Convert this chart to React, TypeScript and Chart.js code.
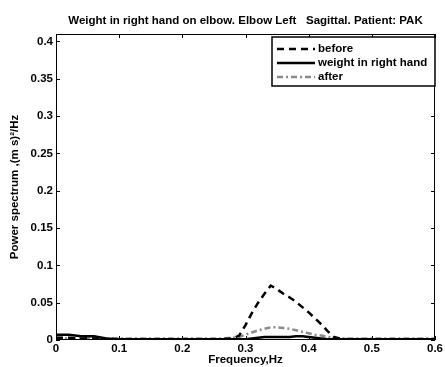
import React, { useEffect, useRef } from "react";
import { Chart, registerables } from "chart.js";
Chart.register(...registerables);

const titleText = "Weight in right hand on elbow. Elbow Left   Sagittal. Patient: PAK";
const xTitle = "Frequency,Hz";
const yTitle = "Power spectrum ,(m s)\u00B2/Hz";
const seriesNames = ["before", "weight in right hand", "after"];
const xTicks = [0, 0.1, 0.2, 0.3, 0.4, 0.5, 0.6];
const yTicks = [0, 0.05, 0.1, 0.15, 0.2, 0.25, 0.3, 0.35, 0.4];

const freq = [0, 0.02, 0.04, 0.06, 0.08, 0.1, 0.12, 0.14, 0.16, 0.18, 0.2, 0.22, 0.24, 0.26, 0.28, 0.29, 0.3, 0.31, 0.32, 0.33, 0.34, 0.35, 0.36, 0.37, 0.38, 0.39, 0.4, 0.41, 0.42, 0.43, 0.44, 0.45, 0.46, 0.48, 0.5, 0.52, 0.54, 0.56, 0.58, 0.6];
const before = [0.003, 0.003, 0.002, 0.002, 0.001, 0.001, 0.001, 0.001, 0.001, 0.001, 0.001, 0.001, 0.001, 0.001, 0.002, 0.006, 0.02, 0.036, 0.05, 0.062, 0.073, 0.068, 0.062, 0.057, 0.051, 0.044, 0.037, 0.029, 0.021, 0.012, 0.004, 0.002, 0.001, 0.001, 0.001, 0.001, 0.001, 0.001, 0.001, 0.001];
const weight = [0.007, 0.007, 0.005, 0.005, 0.002, 0.001, 0.001, 0.001, 0.001, 0.001, 0.001, 0.001, 0.001, 0.001, 0.001, 0.001, 0.001, 0.002, 0.003, 0.004, 0.004, 0.004, 0.004, 0.004, 0.005, 0.005, 0.004, 0.003, 0.002, 0.001, 0.001, 0.001, 0.001, 0.001, 0.001, 0.001, 0.001, 0.001, 0.001, 0.001];
const after = [0.003, 0.002, 0.002, 0.002, 0.002, 0.002, 0.002, 0.002, 0.002, 0.002, 0.002, 0.002, 0.002, 0.002, 0.003, 0.004, 0.007, 0.01, 0.013, 0.015, 0.017, 0.017, 0.016, 0.015, 0.013, 0.011, 0.009, 0.007, 0.006, 0.004, 0.003, 0.002, 0.002, 0.002, 0.002, 0.002, 0.002, 0.002, 0.002, 0.002];

const FONT = "'Liberation Sans', Arial, sans-serif";
const FS = 11.5;
const GRAY = "#8a8a8a";

const framePlugin = {
  id: "frame",
  afterDraw(chart: any) {
    const { ctx, chartArea: a, scales } = chart;
    ctx.save();
    // title centred over the axes
    ctx.font = "bold " + FS + "px " + FONT;
    ctx.fillStyle = "#000";
    ctx.textAlign = "center";
    ctx.textBaseline = "middle";
    ctx.fillText(titleText, (a.left + a.right) / 2, 21);
    ctx.textAlign = "left";

    ctx.strokeStyle = "#000";
    ctx.lineWidth = 1;
    ctx.strokeRect(a.left + 0.5, a.top + 0.5, a.right - a.left - 1, a.bottom - a.top - 1);
    const L = 4;
    ctx.beginPath();
    xTicks.forEach((v) => {
      const x = Math.round(scales.x.getPixelForValue(v)) + 0.5;
      ctx.moveTo(x, a.bottom);
      ctx.lineTo(x, a.bottom - L);
      ctx.moveTo(x, a.top);
      ctx.lineTo(x, a.top + L);
    });
    yTicks.forEach((v) => {
      const y = Math.round(scales.y.getPixelForValue(v)) + 0.5;
      ctx.moveTo(a.left, y);
      ctx.lineTo(a.left + L, y);
      ctx.moveTo(a.right, y);
      ctx.lineTo(a.right - L, y);
    });
    ctx.stroke();

    // legend box
    const bx = 272, by = 37, bw = 163, bh = 49;
    ctx.fillStyle = "#fff";
    ctx.fillRect(bx, by, bw, bh);
    ctx.lineWidth = 1.5;
    ctx.strokeRect(bx, by, bw, bh);
    const styles = [
      { color: "#000", dash: [7, 5] },
      { color: "#000", dash: [] },
      { color: GRAY, dash: [6, 3, 2, 3] },
    ];
    seriesNames.forEach((name, i) => {
      const y = by + 12 + i * 14;
      ctx.beginPath();
      ctx.setLineDash(styles[i].dash);
      ctx.strokeStyle = styles[i].color;
      ctx.lineWidth = 2.5;
      ctx.moveTo(277, y);
      ctx.lineTo(315, y);
      ctx.stroke();
      ctx.setLineDash([]);
      ctx.fillStyle = "#000";
      ctx.fillText(name, 318, y);
    });
    ctx.restore();
  },
};

export default function App() {
  const ref = useRef<HTMLCanvasElement>(null);
  useEffect(() => {
    document.body.style.margin = "0";
    const mk = (arr: number[]) => freq.map((f, i) => ({ x: f, y: arr[i] }));
    const chart = new Chart(ref.current!, {
      type: "line",
      data: {
        datasets: [
          { label: seriesNames[0], data: mk(before), borderColor: "#000", borderWidth: 2.5, borderDash: [7, 5], pointRadius: 0, tension: 0 },
          { label: seriesNames[1], data: mk(weight), borderColor: "#000", borderWidth: 2.5, pointRadius: 0, tension: 0 },
          { label: seriesNames[2], data: mk(after), borderColor: GRAY, borderWidth: 2.5, borderDash: [6, 3, 2, 3], pointRadius: 0, tension: 0 },
        ],
      },
      options: {
        animation: false,
        responsive: false,
        layout: { padding: { left: 0, right: 7, top: 34, bottom: 0 } },
        plugins: {
          legend: { display: false },
          tooltip: { enabled: false },
          title: { display: false },
        },
        scales: {
          x: {
            type: "linear",
            min: 0,
            max: 0.6,
            border: { display: false },
            grid: { display: false, drawTicks: false },
            afterFit(s: any) { s.height = 27; },
            afterBuildTicks(s: any) { s.ticks = xTicks.map((v) => ({ value: v })); },
            ticks: {
              color: "#000",
              padding: 2,
              maxRotation: 0,
              font: { family: FONT, size: FS, weight: "bold" },
              callback: (v: any) => String(Math.round(Number(v) * 10) / 10),
            },
            title: {
              display: true,
              text: xTitle,
              color: "#000",
              font: { family: FONT, size: FS, weight: "bold" },
              padding: { top: 0, bottom: 0 },
            },
          },
          y: {
            type: "linear",
            min: 0,
            max: 0.41,
            border: { display: false },
            grid: { display: false, drawTicks: false },
            afterFit(s: any) { s.width = 56; },
            afterBuildTicks(s: any) { s.ticks = yTicks.map((v) => ({ value: v })); },
            ticks: {
              color: "#000",
              padding: 3,
              font: { family: FONT, size: FS, weight: "bold" },
              callback: (v: any) => String(Math.round(Number(v) * 100) / 100),
            },
            title: {
              display: true,
              text: yTitle,
              color: "#000",
              font: { family: FONT, size: FS, weight: "bold" },
              padding: { top: 8, bottom: 0 },
            },
          },
        },
      },
      plugins: [framePlugin],
    } as any);
    return () => chart.destroy();
  }, []);
  return (
    <div style={{ position: "absolute", left: 0, top: 0, width: 445, height: 367, background: "#fff" }}>
      <canvas ref={ref} width={445} height={367} />
    </div>
  );
}
